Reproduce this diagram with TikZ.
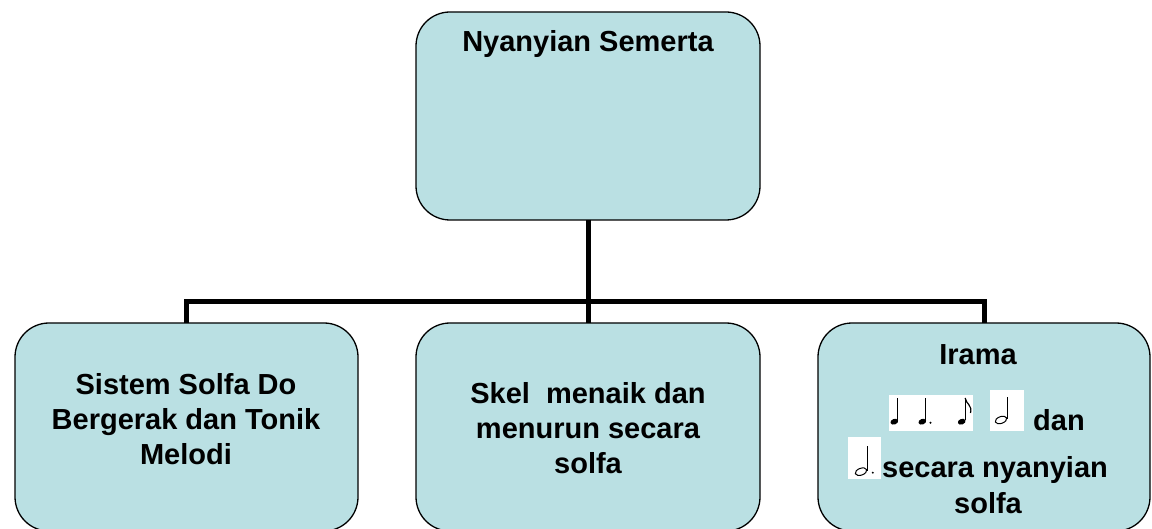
\documentclass[tikz,border=0pt]{standalone}
\usepackage{fontspec}
\setmainfont{Liberation Sans}
\definecolor{boxblue}{RGB}{186,224,227}
\tikzset{
  box/.style={draw, line width=1.3pt, fill=boxblue, rounded corners=34pt, inner sep=0pt, outer sep=0pt},
  txt/.style={font=\bfseries\fontsize{29}{35}\selectfont, align=center, inner sep=0pt},
  conn/.style={line width=5pt},
}
\begin{document}
\begin{tikzpicture}[x=1pt,y=-1pt]
\useasboundingbox (0,0) rectangle (1152,529);
% boxes
\node[box, minimum width=344pt, minimum height=208pt] (top) at (588,116) {};
\node[box, minimum width=343pt, minimum height=208pt] (sol) at (186.5,427) {};
\node[box, minimum width=344pt, minimum height=208pt] (skel) at (588,427) {};
\node[box, minimum width=332pt, minimum height=208pt] (ira) at (984,427) {};
% connectors
\coordinate (bar) at (588,302);
\draw[conn] (top.south) -- (skel.north);
\draw[conn] (sol.north) |- (bar) -| (ira.north);
% note pictures
\fill[white] (889,395) rectangle (973,431);
\fill[white] (990,390) rectangle (1024,431);
\fill[white] (848,437) rectangle (881,479);
\foreach \hx in {894.3,922.3,961.7} {
  \fill[rotate around={20:(\hx,421.7)}] (\hx,421.7) ellipse (4pt and 2.8pt);
  \draw[line width=1pt] (\hx+3.4,420.5) -- (\hx+3.4,398);
}
\fill (930.5,422.7) circle (1.1pt);
\draw[line width=1.2pt] (965.1,398) .. controls (966,404) and (972.5,405) .. (970.5,413);
\draw[line width=1pt, rotate around={20:(1001,420)}] (1001,420) ellipse (6pt and 3.4pt);
\draw[line width=1pt] (1007,419) -- (1007,397);
\draw[line width=1pt, rotate around={20:(861,471.7)}] (861,471.7) ellipse (6pt and 3.4pt);
\draw[line width=1pt] (867,470.5) -- (867,446);
\fill (872.8,472.7) circle (1.1pt);
% text
\node[txt, anchor=base] (toptxt) at (588,52) {Nyanyian Semerta};
\node[txt] (soltxt) at (186,419) {Sistem Solfa Do\\Bergerak dan Tonik\\Melodi};
\node[txt] (skeltxt) at (588,428) {Skel\ \ menaik dan\\menurun secara\\solfa};
\node[txt, anchor=base] (iratxt) at (978,365) {Irama};
\node[txt, anchor=base west] (dantxt) at (1033,430) {dan};
\node[txt, anchor=base west] (sectxt) at (882,477) {secara nyanyian};
\node[txt, anchor=base] (solfatxt) at (988,513) {solfa};
\end{tikzpicture}
\end{document}
